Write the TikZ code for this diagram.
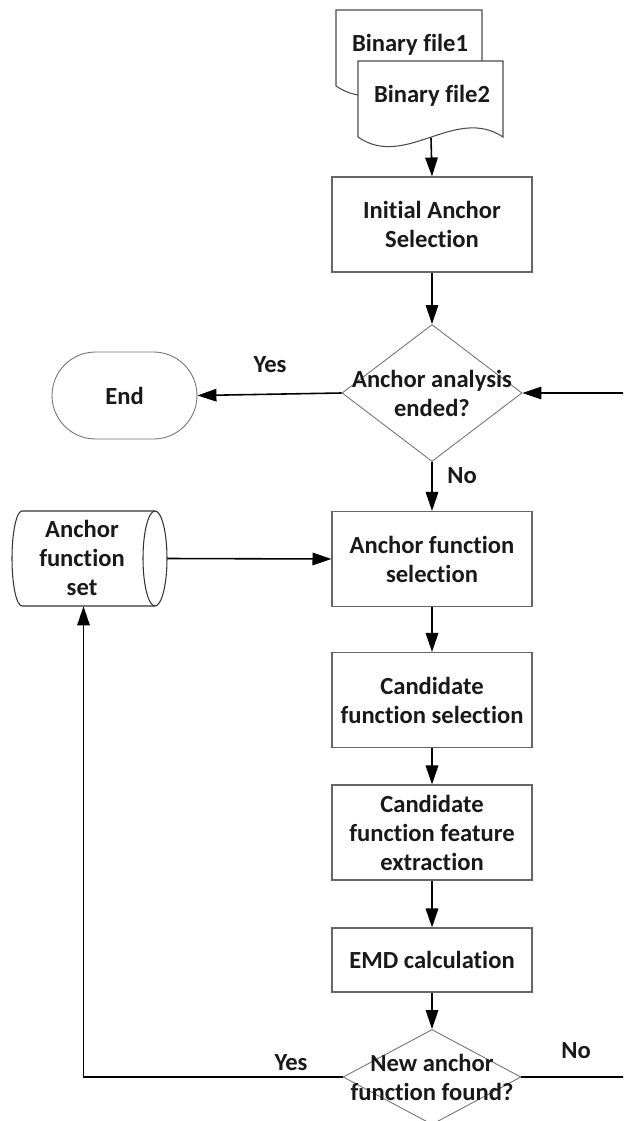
\documentclass[tikz,border=0pt]{standalone}
\usepackage{fontspec}
\setmainfont{Carlito}[Ligatures=NoCommon]
\usetikzlibrary{positioning,calc,shapes.geometric,arrows.meta}

\begin{document}
\begin{tikzpicture}[x=0.02cm,y=-0.02cm,
  every node/.style={font=\fontsize{14}{16.5}\selectfont\bfseries, align=center, text=black!90},
  procbox/.style={draw=black!60, line width=0.6pt, minimum width=4cm, minimum height=1.9cm, inner sep=0pt},
  decision/.style={draw=black!55, line width=0.5pt, shape=diamond, minimum width=3.6cm, minimum height=2.74cm, inner sep=0pt},
  flow/.style={line width=0.9pt, -{Triangle[length=0.38cm,width=0.25cm]}}]

\useasboundingbox (0,0) rectangle (623,1121);
\clip (0,0) rectangle (623,1121);

% INPUT FILES

\draw[draw=black!70, line width=0.6pt, fill=white] (336,10) -- (482,10) -- (482,86)
  .. controls (434,54) and (384,119) .. (336,86) -- cycle;
\node (bin1) at (410,45) {Binary file1};

\draw[draw=black!70, line width=0.6pt, fill=white] (358,61) -- (503,61) -- (503,137)
  .. controls (455,105) and (405,170) .. (358,137) -- cycle;
\node (bin2) at (432,96) {Binary file2};
\coordinate (bin2b) at (431,138);

% MAIN COLUMN

\node[procbox] (init) at (432,224.5) {Initial Anchor\\Selection};

\node[decision] (d1) at (432,393) {};
\node (d1t) at (d1) {Anchor analysis\\ended?};

\node[procbox] (afs) at (432,559) {Anchor function\\selection};
\node[procbox] (cfs) at (432,700) {Candidate\\function selection};
\node[procbox] (cfe) at (432,832.5) {Candidate\\function feature\\extraction};
\node[procbox, minimum height=1.28cm] (emd) at (432,960) {EMD calculation};

\node[decision, minimum width=3.56cm, minimum height=1.9cm] (d2) at (432,1077) {};
\node (d2t) at (d2) {New anchor\\function found?};

% LEFT SIDE

\node[draw=black!55, line width=0.5pt, rounded corners=0.87cm, minimum width=2.9cm, minimum height=1.74cm] (endn) at (124.5,395.5) {End};

% stored set (drawn by hand)
\draw[draw=black!80, line width=0.6pt] (22,511) -- (155,511)
  arc[start angle=90, end angle=-90, x radius=0.24cm, y radius=0.95cm] -- (22,606)
  arc[start angle=270, end angle=90, x radius=0.2cm, y radius=0.95cm] -- cycle;
\draw[draw=black!80, line width=0.6pt] (155,511)
  arc[start angle=90, end angle=270, x radius=0.24cm, y radius=0.95cm];
\node[minimum width=2.9cm, minimum height=1.9cm, inner sep=0pt] (aset) at (94.5,558.5) {};
\node (asett) at (82,558) {Anchor\\function\\set};

% CONNECTORS

\draw[flow] (bin2b) -- (init.north);
\draw[flow] (init.south) -- (d1.north);
\draw[flow] (d1.west) -- (endn.east);
\draw[flow] (d1.south) -- (afs.north);
\draw[flow] (aset.east) -- (afs.west);
\draw[flow] (afs.south) -- (cfs.north);
\draw[flow] (cfs.south) -- (cfe.north);
\draw[flow] (cfe.south) -- (emd.north);
\draw[flow] (emd.south) -- (d2.north);
\draw[flow] (d2.west) -| ($(aset.south)+(-11,0)$);

\coordinate (rx) at (628,0);
\draw[flow] (d2.east) -- (d2.east -| rx) |- (d1.east);

% labels

\node (yes1) at (270,365) {Yes};
\node (no1) at (462,476) {No};
\node (yes2) at (291,1063) {Yes};
\node (no2) at (576,1051) {No};

\end{tikzpicture}
\end{document}
